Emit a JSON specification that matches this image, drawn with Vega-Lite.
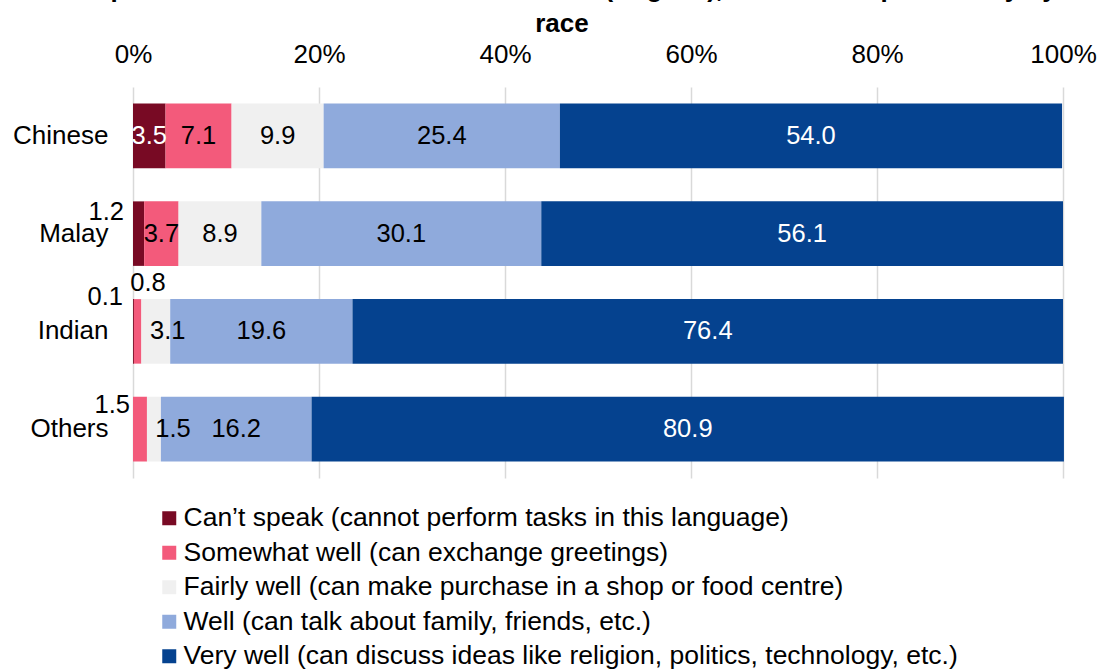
{
  "$schema": "https://vega.github.io/schema/vega-lite/v6.json",
  "width": 930,
  "height": 391,
  "autosize": {"type": "none"},
  "padding": {"left": 133, "top": 87, "right": 36, "bottom": 192},
  "config": {"font": "Liberation Sans", "view": {"stroke": null}},
  "title": {
    "text": ["Proportion of residents able to converse in (English), and level of proficiency by", "race"],
    "fontSize": 26,
    "fontWeight": "bold",
    "lineHeight": 35.5,
    "anchor": "middle",
    "dx": -36,
    "offset": 4,
    "color": "#000000",
    "font": "Liberation Sans"
  },
  "data": {
    "values": [
      {"race": "Chinese", "level": "Can’t speak (cannot perform tasks in this language)", "ord": 1, "pct": 3.5},
      {"race": "Chinese", "level": "Somewhat well (can exchange greetings)", "ord": 2, "pct": 7.1},
      {"race": "Chinese", "level": "Fairly well (can make purchase in a shop or food centre)", "ord": 3, "pct": 9.9},
      {"race": "Chinese", "level": "Well (can talk about family, friends, etc.)", "ord": 4, "pct": 25.4},
      {"race": "Chinese", "level": "Very well (can discuss ideas like religion, politics, technology, etc.)", "ord": 5, "pct": 54.0},
      {"race": "Malay", "level": "Can’t speak (cannot perform tasks in this language)", "ord": 1, "pct": 1.2},
      {"race": "Malay", "level": "Somewhat well (can exchange greetings)", "ord": 2, "pct": 3.7},
      {"race": "Malay", "level": "Fairly well (can make purchase in a shop or food centre)", "ord": 3, "pct": 8.9},
      {"race": "Malay", "level": "Well (can talk about family, friends, etc.)", "ord": 4, "pct": 30.1},
      {"race": "Malay", "level": "Very well (can discuss ideas like religion, politics, technology, etc.)", "ord": 5, "pct": 56.1},
      {"race": "Indian", "level": "Can’t speak (cannot perform tasks in this language)", "ord": 1, "pct": 0.1},
      {"race": "Indian", "level": "Somewhat well (can exchange greetings)", "ord": 2, "pct": 0.8},
      {"race": "Indian", "level": "Fairly well (can make purchase in a shop or food centre)", "ord": 3, "pct": 3.1},
      {"race": "Indian", "level": "Well (can talk about family, friends, etc.)", "ord": 4, "pct": 19.6},
      {"race": "Indian", "level": "Very well (can discuss ideas like religion, politics, technology, etc.)", "ord": 5, "pct": 76.4},
      {"race": "Others", "level": "Somewhat well (can exchange greetings)", "ord": 2, "pct": 1.5},
      {"race": "Others", "level": "Fairly well (can make purchase in a shop or food centre)", "ord": 3, "pct": 1.5},
      {"race": "Others", "level": "Well (can talk about family, friends, etc.)", "ord": 4, "pct": 16.2},
      {"race": "Others", "level": "Very well (can discuss ideas like religion, politics, technology, etc.)", "ord": 5, "pct": 80.9}
    ]
  },
  "transform": [
    {"stack": "pct", "groupby": ["race"], "sort": [{"field": "ord", "order": "ascending"}], "as": ["x0", "x1"]},
    {"calculate": "(datum.x0 + datum.x1) / 2", "as": "xm"}
  ],
  "encoding": {
    "y": {
      "field": "race",
      "type": "nominal",
      "sort": ["Chinese", "Malay", "Indian", "Others"],
      "scale": {"paddingInner": 0.34, "paddingOuter": 0.17},
      "axis": {"title": null, "domain": false, "ticks": false, "labelFontSize": 26, "labelColor": "#000000", "labelPadding": 25, "labelFont": "Liberation Sans"}
    }
  },
  "layer": [
    {
      "mark": {"type": "bar"},
      "encoding": {
        "x": {
          "field": "x0",
          "type": "quantitative",
          "scale": {"domain": [0, 100], "nice": false, "zero": true},
          "axis": {
            "orient": "top",
            "title": null,
            "values": [0, 20, 40, 60, 80, 100],
            "labelExpr": "datum.value + '%'",
            "labelFlush": false,
            "labelOverlap": false,
            "grid": true,
            "gridColor": "#d9d9d9",
            "gridWidth": 1.5,
            "domain": false,
            "ticks": false,
            "labelFontSize": 26,
            "labelColor": "#000000",
            "labelPadding": 20,
            "labelFont": "Liberation Sans"
          }
        },
        "x2": {"field": "x1"},
        "color": {
          "field": "level",
          "type": "nominal",
          "scale": {
            "domain": [
              "Can’t speak (cannot perform tasks in this language)",
              "Somewhat well (can exchange greetings)",
              "Fairly well (can make purchase in a shop or food centre)",
              "Well (can talk about family, friends, etc.)",
              "Very well (can discuss ideas like religion, politics, technology, etc.)"
            ],
            "range": ["#780A24", "#F35A7B", "#F0F0F0", "#8FAADC", "#05428F"]
          },
          "legend": {
            "title": null,
            "orient": "none",
            "legendX": 23,
            "legendY": 418,
            "direction": "vertical",
            "symbolType": "square",
            "symbolSize": 196,
            "symbolStrokeWidth": 0,
            "labelFontSize": 26.5,
            "labelFont": "Liberation Sans",
            "labelColor": "#000000",
            "labelOffset": 1,
            "rowPadding": 7.5,
            "labelLimit": 1000
          }
        }
      }
    },
    {
      "transform": [{"filter": "!((datum.race == 'Malay' && datum.ord == 1) || (datum.race == 'Indian' && datum.ord <= 3) || (datum.race == 'Others' && datum.ord <= 3))"}],
      "mark": {"type": "text", "fontSize": 25.5, "font": "Liberation Sans", "align": "center", "baseline": "middle"},
      "encoding": {
        "x": {"field": "xm", "type": "quantitative"},
        "text": {"field": "pct", "type": "quantitative", "format": ".1f"},
        "color": {"condition": {"test": "datum.ord == 1 || datum.ord == 5", "value": "#ffffff"}, "value": "#000000"}
      }
    },
    {
      "transform": [{"filter": "datum.race == 'Indian' && datum.ord == 3"}],
      "mark": {"type": "text", "fontSize": 25.5, "font": "Liberation Sans", "align": "center", "baseline": "middle", "dx": 12, "color": "#000000"},
      "encoding": {"x": {"field": "xm", "type": "quantitative"}, "text": {"field": "pct", "type": "quantitative", "format": ".1f"}}
    },
    {
      "transform": [{"filter": "datum.race == 'Others' && datum.ord == 3"}],
      "mark": {"type": "text", "fontSize": 25.5, "font": "Liberation Sans", "align": "center", "baseline": "middle", "dx": 19, "color": "#000000"},
      "encoding": {"x": {"field": "xm", "type": "quantitative"}, "text": {"field": "pct", "type": "quantitative", "format": ".1f"}}
    },
    {
      "transform": [{"filter": "datum.race == 'Malay' && datum.ord == 1"}],
      "mark": {"type": "text", "fontSize": 25.5, "font": "Liberation Sans", "align": "right", "baseline": "middle", "dx": -9, "dy": -22, "color": "#000000"},
      "encoding": {"x": {"field": "x0", "type": "quantitative"}, "text": {"field": "pct", "type": "quantitative", "format": ".1f"}}
    },
    {
      "transform": [{"filter": "datum.race == 'Indian' && datum.ord == 1"}],
      "mark": {"type": "text", "fontSize": 25.5, "font": "Liberation Sans", "align": "right", "baseline": "middle", "dx": -10, "dy": -34, "color": "#000000"},
      "encoding": {"x": {"field": "x0", "type": "quantitative"}, "text": {"field": "pct", "type": "quantitative", "format": ".1f"}}
    },
    {
      "transform": [{"filter": "datum.race == 'Indian' && datum.ord == 2"}],
      "mark": {"type": "text", "fontSize": 25.5, "font": "Liberation Sans", "align": "center", "baseline": "middle", "dx": 14, "dy": -48, "color": "#000000"},
      "encoding": {"x": {"field": "x0", "type": "quantitative"}, "text": {"field": "pct", "type": "quantitative", "format": ".1f"}}
    },
    {
      "transform": [{"filter": "datum.race == 'Others' && datum.ord == 2"}],
      "mark": {"type": "text", "fontSize": 25.5, "font": "Liberation Sans", "align": "right", "baseline": "middle", "dx": -3, "dy": -24, "color": "#000000"},
      "encoding": {"x": {"field": "x0", "type": "quantitative"}, "text": {"field": "pct", "type": "quantitative", "format": ".1f"}}
    }
  ]
}
